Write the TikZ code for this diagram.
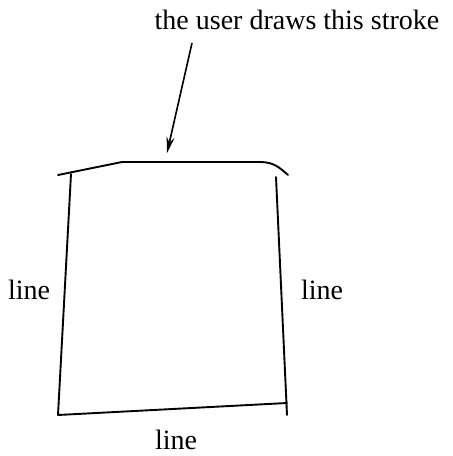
\documentclass[tikz,border=0pt]{standalone}
\usepackage{fontspec}
\setmainfont{Liberation Serif}
\usetikzlibrary{arrows.meta}
\begin{document}
\begin{tikzpicture}[x=1pt,y=-1pt,
  pen/.style={line width=1.9pt, line cap=round, line join=round},
  lbl/.style={font=\fontsize{28}{32}\selectfont, inner sep=0pt}]
\useasboundingbox (0,0) rectangle (453,456);
% the sketched stroke across the top
\coordinate (s0) at (58,175);
\coordinate (s1) at (122,162);
\coordinate (s2) at (260,162);
\coordinate (s3) at (288,175);
\draw[pen] (s0) -- (s1) -- (s2) .. controls (274,162) and (280,168) .. (s3);
% the three straight lines
\coordinate (lt) at (71,174);
\coordinate (lb) at (58,415);
\coordinate (rt) at (276,177);
\coordinate (rb) at (287,415);
\coordinate (rbl) at (287,403);
\draw[pen] (lt) -- (lb) -- (rbl);
\draw[pen] (rt) -- (rb);
% labels
\node[lbl] (cap) at (297,20) {the user draws this stroke};
\node[lbl] (ll) at (29,290) {line};
\node[lbl] (rl) at (322,290) {line};
\node[lbl] (bl) at (176,440) {line};
% arrow pointing at the stroke
\coordinate (atip) at (167,153);
\draw[line width=1.6pt, -{Stealth[length=16pt,width=8pt]}] (192,43) -- (atip);
\end{tikzpicture}
\end{document}
